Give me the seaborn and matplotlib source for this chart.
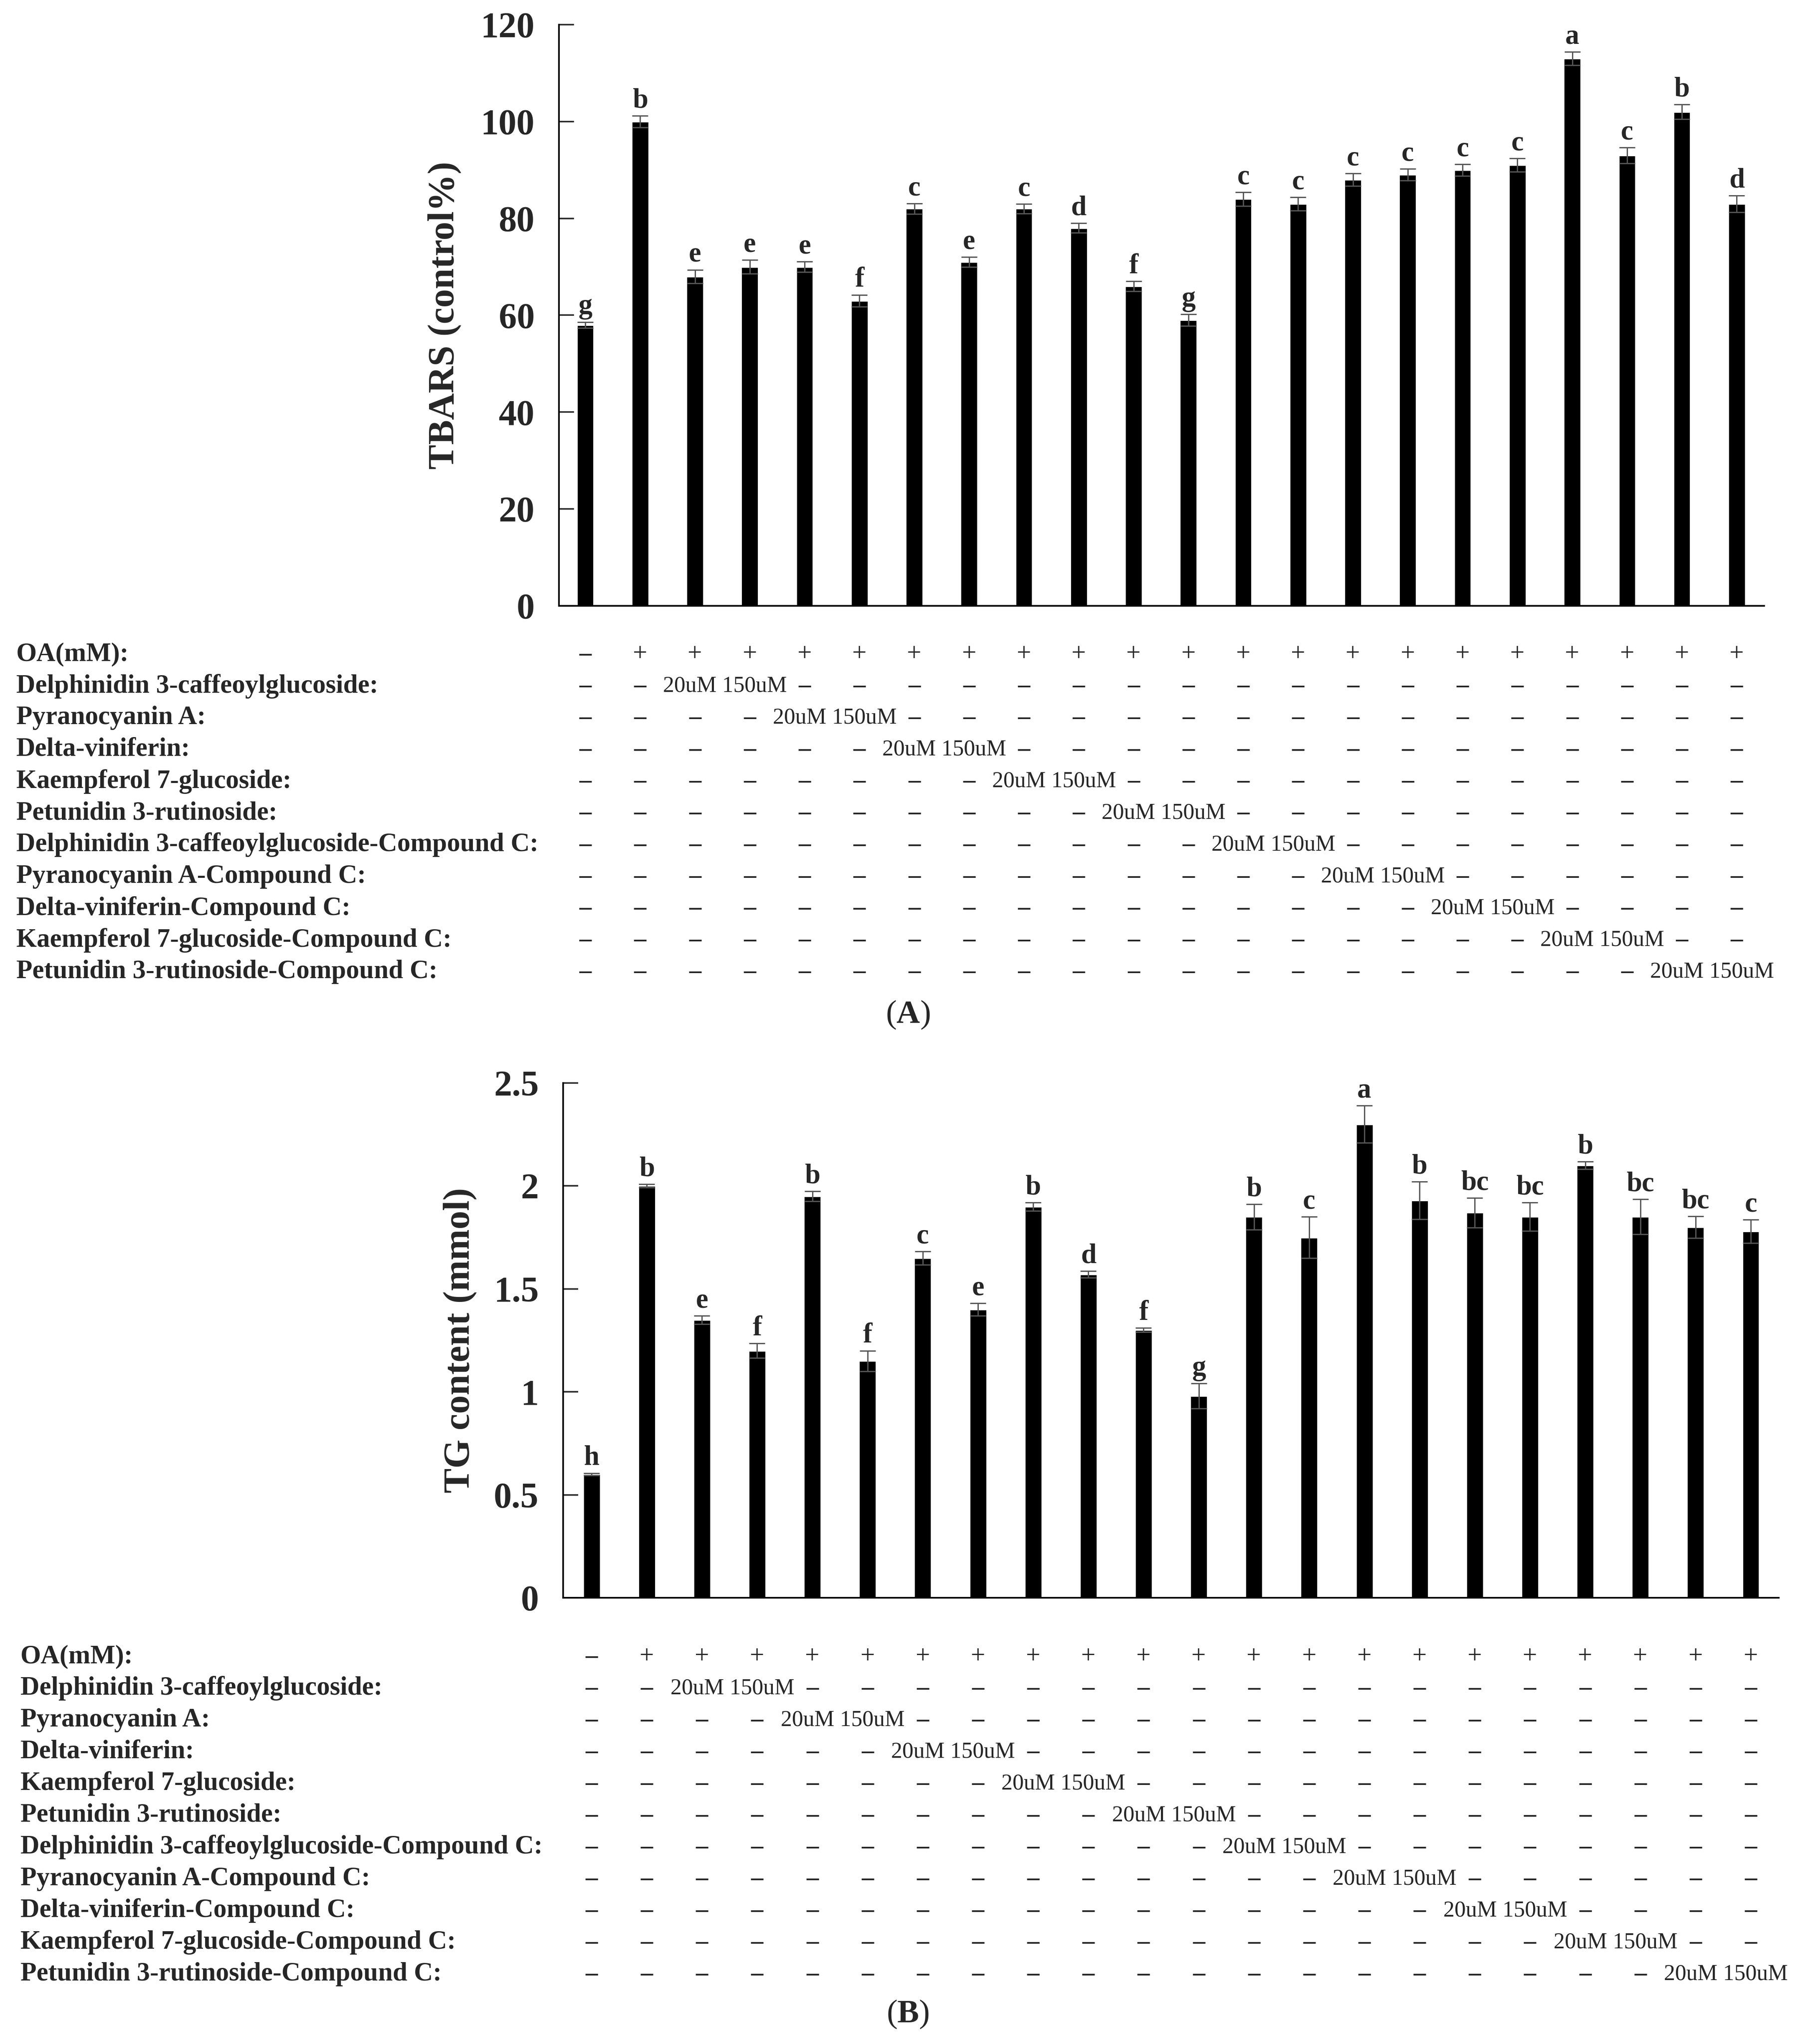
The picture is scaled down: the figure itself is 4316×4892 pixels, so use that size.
import numpy as np
import pandas as pd
import matplotlib
matplotlib.use("Agg")
import matplotlib.pyplot as plt
import matplotlib.transforms as mtransforms
import seaborn as sns

# ---- data ----
groups = [f"G{i}" for i in range(1, 23)]

tbars = [58, 100, 68, 70, 70, 63, 82, 71, 82, 78, 66, 59, 84, 83, 88, 89, 90, 91, 113, 93, 102, 83]
tbars_err = [0.6, 1.2, 1.4, 1.4, 1.1, 1.2, 1.1, 1.0, 1.0, 1.0, 1.0, 1.2, 1.4, 1.4, 1.3, 1.2, 1.2, 1.4, 1.4, 1.6, 1.5, 1.7]
tbars_letters = ["g", "b", "e", "e", "e", "f", "c", "e", "c", "d", "f", "g", "c", "c", "c", "c", "c", "c", "a", "c", "b", "d"]

tg = [0.60, 2.00, 1.35, 1.20, 1.95, 1.15, 1.65, 1.40, 1.90, 1.57, 1.30, 0.98, 1.85, 1.75, 2.30, 1.93, 1.87, 1.85, 2.10, 1.85, 1.80, 1.78]
tg_err = [0.005, 0.008, 0.02, 0.035, 0.024, 0.05, 0.033, 0.03, 0.02, 0.016, 0.01, 0.06, 0.062, 0.10, 0.09, 0.092, 0.072, 0.069, 0.019, 0.085, 0.053, 0.057]
tg_letters = ["h", "b", "e", "f", "b", "f", "c", "e", "b", "d", "f", "g", "b", "c", "a", "b", "bc", "bc", "b", "bc", "bc", "c"]

row_labels = [
    "OA(mM):",
    "Delphinidin 3-caffeoylglucoside:",
    "Pyranocyanin A:",
    "Delta-viniferin:",
    "Kaempferol 7-glucoside:",
    "Petunidin 3-rutinoside:",
    "Delphinidin 3-caffeoylglucoside-Compound C:",
    "Pyranocyanin A-Compound C:",
    "Delta-viniferin-Compound C:",
    "Kaempferol 7-glucoside-Compound C:",
    "Petunidin 3-rutinoside-Compound C:",
]
oa_signs = ["–"] + ["+"] * 21
dose_text = "20uM 150uM"

tbars_ticks = [0, 20, 40, 60, 80, 100, 120]
tbars_ticklabels = ["0", "20", "40", "60", "80", "100", "120"]
tg_ticks = [0, 0.5, 1, 1.5, 2, 2.5]
tg_ticklabels = ["0", "0.5", "1", "1.5", "2", "2.5"]

sns.set_style("ticks")
plt.rcParams['font.family'] = ['Liberation Serif', 'DejaVu Serif']
plt.rcParams['mathtext.fontset'] = 'custom'
plt.rcParams['mathtext.rm'] = 'Liberation Serif'
plt.rcParams['mathtext.bf'] = 'Liberation Serif:bold'

W, H = 4316, 4892
fig = plt.figure(figsize=(W / 200, H / 200), dpi=200)


def panel(rect, values, errs, letters, ticks, ticklabels, ylabel, xlim, ylabel_x,
          row_y0, label_x, tag, tag_xy):
    ax = fig.add_axes(rect)
    df = pd.DataFrame({"group": groups, "value": values})
    sns.barplot(data=df, x="group", y="value", color="black", saturation=1,
                width=0.31, errorbar=None, ax=ax)
    ax.errorbar(np.arange(len(values)), values, yerr=errs, fmt="none",
                ecolor="#555555", elinewidth=1.1, capsize=7, capthick=1.1)
    for i, (v, e, l) in enumerate(zip(values, errs, letters)):
        ax.annotate(l, (i, v + e), xytext=(0, 2), textcoords="offset points",
                    ha="center", va="bottom", fontsize=24, fontweight="bold")
    ax.set_xlim(*xlim)
    ax.set_ylim(ticks[0], ticks[-1])
    ax.set_yticks(ticks, ticklabels, fontweight="bold")
    ax.tick_params(axis="y", direction="in", length=13, width=1.3, pad=21, labelsize=31)
    ax.tick_params(axis="x", bottom=False, labelbottom=False)
    ax.set_xlabel("")
    ax.set_ylabel(ylabel, fontsize=32, fontweight="bold")
    ax.yaxis.set_label_coords(ylabel_x, 0.5)
    sns.despine(ax=ax)
    for s in ["left", "bottom"]:
        ax.spines[s].set_linewidth(1.4)
        ax.spines[s].set_color("black")

    # treatment table beneath the bars
    trans = mtransforms.blended_transform_factory(ax.transData, fig.transFigure)
    step = 76.0
    for r, lab in enumerate(row_labels):
        yf = 1 - (row_y0 + r * step) / H
        fig.text(label_x / W, yf, lab, ha="left", va="center", fontsize=22.7,
                 fontweight="bold")
        if r == 0:
            for c, txt in enumerate(oa_signs):
                fig.text(c, yf, txt, transform=trans, ha="center", va="center",
                         fontsize=21 if txt == "–" else 22,
                         fontweight="bold" if txt == "–" else "normal")
            continue
        for c in range(len(groups)):
            if c in (2 * r, 2 * r + 1):
                continue
            fig.text(c, yf, "–", transform=trans, ha="center", va="center",
                     fontsize=21, fontweight="bold")
        fig.text(2 * r + 0.55, yf, dose_text, transform=trans, ha="center",
                 va="center", fontsize=19.3)
    fig.text(tag_xy[0] / W, 1 - tag_xy[1] / H, r"($\mathbf{%s}$)" % tag,
             ha="center", va="center", fontsize=28)
    return ax


panel([1338 / W, 1 - 1450 / H, (4223 - 1338) / W, (1450 - 59) / H],
      tbars, tbars_err, tbars_letters, tbars_ticks, tbars_ticklabels,
      "TBARS (control%)", (-0.48, 21.5), -0.081, 1566, 39, "A", (2173, 2429))

panel([1348 / W, 1 - 3824 / H, (4258 - 1348) / W, (3824 - 2592) / H],
      tg, tg_err, tg_letters, tg_ticks, tg_ticklabels,
      "TG content (mmol)", (-0.515, 21.507), -0.071, 3965, 49, "B", (2173, 4821))

fig.savefig("out.png", dpi=200)
